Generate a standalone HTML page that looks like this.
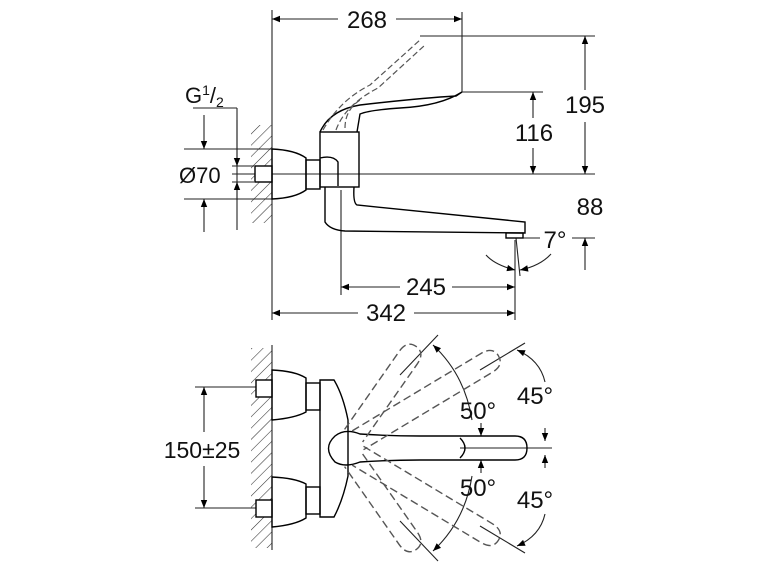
<!DOCTYPE html>
<html><head><style>
html,body{margin:0;padding:0;background:#fff}
svg{display:block}
text{font-family:"Liberation Sans",sans-serif;fill:#111}
</style></head><body>
<svg width="770" height="578" viewBox="0 0 770 578" xmlns="http://www.w3.org/2000/svg">
<defs>
<marker id="a" viewBox="0 0 10 10" refX="10" refY="5" markerWidth="13" markerHeight="8" orient="auto-start-reverse" markerUnits="userSpaceOnUse"><path d="M0,1 L10,5 L0,9z" fill="#000"/></marker>
<pattern id="h" width="8" height="8" patternUnits="userSpaceOnUse" patternTransform="rotate(45)"><line x1="0" y1="0" x2="0" y2="8" stroke="#333" stroke-width="1.1"/></pattern>
</defs>
<g stroke="#222" stroke-width="1.1" fill="none">
<!-- TOP VIEW -->
<rect x="251" y="125" width="21" height="98" fill="url(#h)" stroke="none"/>
<line x1="272" y1="10" x2="272" y2="320"/>
<line x1="462" y1="12" x2="462" y2="92"/>
<line x1="272" y1="19" x2="338" y2="19" marker-start="url(#a)"/>
<line x1="396" y1="19" x2="462" y2="19" marker-end="url(#a)"/>
<line x1="420" y1="36" x2="595" y2="36"/>
<line x1="462" y1="92" x2="543" y2="92"/>
<line x1="232" y1="174" x2="595" y2="174"/>
<line x1="515" y1="238" x2="540" y2="238"/>
<line x1="572" y1="238" x2="595" y2="238"/>
<line x1="585" y1="36" x2="585" y2="90" marker-start="url(#a)"/>
<line x1="585" y1="122" x2="585" y2="174" marker-end="url(#a)"/>
<line x1="533" y1="92" x2="533" y2="118" marker-start="url(#a)"/>
<line x1="533" y1="148" x2="533" y2="174" marker-end="url(#a)"/>
<line x1="585" y1="270" x2="585" y2="238" marker-end="url(#a)"/>
<line x1="341" y1="190" x2="341" y2="295"/>
<line x1="515" y1="240" x2="515" y2="320"/>
<line x1="341" y1="287" x2="400" y2="287" marker-start="url(#a)"/>
<line x1="452" y1="287" x2="515" y2="287" marker-end="url(#a)"/>
<line x1="272" y1="313" x2="358" y2="313" marker-start="url(#a)"/>
<line x1="414" y1="313" x2="515" y2="313" marker-end="url(#a)"/>
<path d="M486,255 Q495,265 515,270" marker-end="url(#a)"/>
<path d="M551,254 Q540,266 520,270" marker-end="url(#a)"/>
<line x1="516" y1="238" x2="520" y2="276"/>
<line x1="193" y1="108" x2="237" y2="108"/>
<line x1="237" y1="108" x2="237" y2="200"/>
<line x1="184" y1="149" x2="272" y2="149"/>
<line x1="184" y1="199" x2="272" y2="199"/>
<line x1="232" y1="166" x2="254" y2="166"/>
<line x1="232" y1="182" x2="254" y2="182"/>
<line x1="237" y1="120" x2="237" y2="166" marker-end="url(#a)"/>
<line x1="237" y1="230" x2="237" y2="182" marker-end="url(#a)"/>
<line x1="204" y1="115" x2="204" y2="149" marker-end="url(#a)"/>
<line x1="204" y1="232" x2="204" y2="199" marker-end="url(#a)"/>
<g stroke="#000" stroke-width="1.4">
<rect x="255" y="166" width="17" height="16" fill="#fff"/>
<path d="M272,149 Q295,150 306,158 L306,190 Q295,198 272,199z"/>
<rect x="306" y="160" width="14" height="29"/>
<rect x="320" y="132" width="39" height="55"/>
<path d="M320,158 Q333,155 338,162 L338,186"/>
<path d="M320,132 Q330,110 360,105 Q420,98 456,96 L462,92 Q440,106 400,108 Q370,110 360,114 L357,132"/>
<path d="M325,187 L325,222 Q330,230 345,231 L525,233 L525,222 L357,205 Q353,203 354,187"/>
<rect x="506" y="233" width="17" height="5"/>
</g>
<g stroke="#555" stroke-dasharray="6,3" stroke-width="1.2">
<path d="M323,130 Q340,100 370,85 L420,40"/>
<path d="M336,130 Q345,105 378,88 L425,45"/>
<path d="M345,128 Q345,110 360,100"/>
</g>
<!-- BOTTOM VIEW -->
<rect x="251" y="348" width="21" height="200" fill="url(#h)" stroke="none"/>
<line x1="272" y1="345" x2="272" y2="550"/>
<line x1="195" y1="387" x2="256" y2="387"/>
<line x1="195" y1="508" x2="256" y2="508"/>
<line x1="204" y1="387" x2="204" y2="432" marker-start="url(#a)"/>
<line x1="204" y1="466" x2="204" y2="508" marker-end="url(#a)"/>
<line x1="460" y1="448" x2="552" y2="448"/>
<line x1="481" y1="423" x2="481" y2="436" marker-end="url(#a)"/>
<line x1="481" y1="473" x2="481" y2="460" marker-end="url(#a)"/>
<line x1="545" y1="428" x2="545" y2="441" marker-end="url(#a)"/>
<line x1="545" y1="468" x2="545" y2="455" marker-end="url(#a)"/>
<path d="M472,420 Q465,375 433,345" marker-end="url(#a)"/>
<path d="M472,476 Q465,521 433,551" marker-end="url(#a)"/>
<path d="M545,382 Q540,360 517,350" marker-end="url(#a)"/>
<path d="M545,514 Q540,536 517,546" marker-end="url(#a)"/>
<line x1="400" y1="375" x2="438" y2="335"/>
<line x1="400" y1="521" x2="438" y2="561"/>
<line x1="480" y1="370" x2="525" y2="343"/>
<line x1="480" y1="526" x2="525" y2="553"/>
<g stroke="#000" stroke-width="1.4">
<rect x="256" y="380" width="16" height="17" fill="#fff"/>
<rect x="256" y="500" width="16" height="17" fill="#fff"/>
<path d="M272,370 Q295,371 306,378 L306,412 Q295,418 272,420z"/>
<path d="M272,477 Q295,478 306,484 L306,518 Q295,525 272,527z"/>
<rect x="306" y="383" width="14" height="27"/>
<rect x="306" y="487" width="14" height="27"/>
<path d="M320,380 L334,380 Q343,395 348,420 L348,476 Q343,500 334,517 L320,517z"/>
<path d="M360,434 Q345,428 335,436 Q322,448 335,462 Q345,468 360,462 Q390,460 420,460 L515,460 Q527,460 527,448 Q527,436 515,436 L420,436 Q390,436 360,434z"/>
<path d="M460,438 Q470,448 460,458"/>
</g>
<g stroke="#555" stroke-dasharray="8,4" stroke-width="1.4">
<g transform="rotate(-31 345 448)"><path d="M360,437 L510,437 Q524,437 524,448 Q524,459 510,459 L360,459"/></g>
<g transform="rotate(31 345 448)"><path d="M360,437 L510,437 Q524,437 524,448 Q524,459 510,459 L360,459"/></g>
<g transform="rotate(-55 345 448)"><path d="M360,437 L455,437 Q469,437 469,448 Q469,459 455,459 L360,459"/></g>
<g transform="rotate(55 345 448)"><path d="M360,437 L455,437 Q469,437 469,448 Q469,459 455,459 L360,459"/></g>
</g>
</g>
<g font-size="24">
<text x="367" y="28" text-anchor="middle">268</text>
<text x="585" y="113" text-anchor="middle">195</text>
<text x="534" y="141" text-anchor="middle">116</text>
<text x="590" y="215" text-anchor="middle">88</text>
<text x="555" y="248" text-anchor="middle">7°</text>
<text x="426" y="295" text-anchor="middle">245</text>
<text x="386" y="321" text-anchor="middle">342</text>
<text x="185" y="103" font-size="22">G<tspan font-size="14" dy="-8">1</tspan><tspan dy="8">/</tspan><tspan font-size="14" dy="4">2</tspan></text>
<text x="179" y="183" font-size="22">Ø70</text>
<text x="202" y="458" text-anchor="middle" font-size="23">150±25</text>
<text x="478" y="419" text-anchor="middle">50°</text>
<text x="478" y="496" text-anchor="middle">50°</text>
<text x="535" y="404" text-anchor="middle">45°</text>
<text x="535" y="508" text-anchor="middle">45°</text>
</g>
</svg>
</body></html>
